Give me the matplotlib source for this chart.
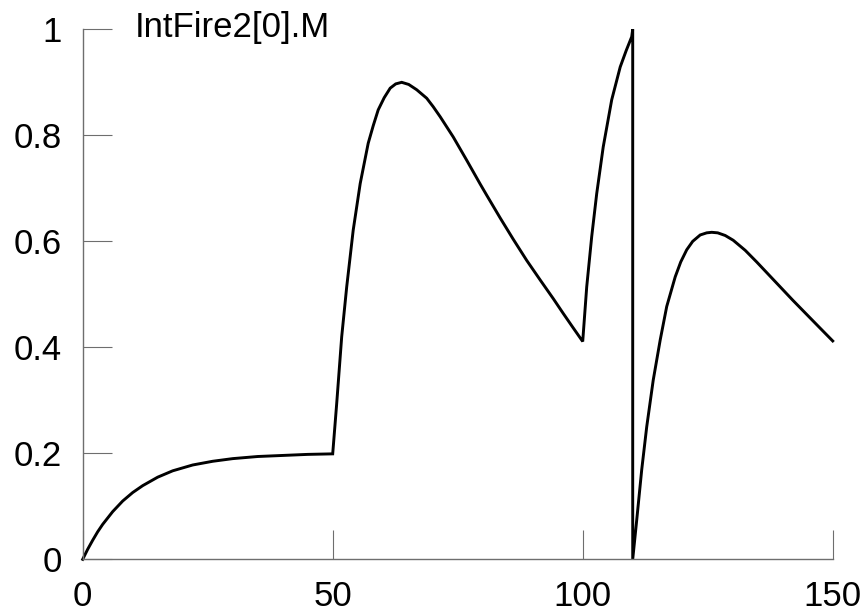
"""IntFire2 membrane state trace, NEURON-graph style."""

import matplotlib
matplotlib.use('Agg')
import matplotlib.pyplot as plt

plt.rcParams['font.family'] = ['Liberation Sans', 'DejaVu Sans']

# Trace label
trace_label = "IntFire2[0].M"

# Time points (ms) and state values of IntFire2[0].M
t_ms = [
    0, 1, 2, 3, 4, 6, 8, 10, 12, 15, 18, 22, 26, 30, 35, 40, 45, 50,
    50.8, 51.8, 52.8, 54.1, 55.5, 57.1, 58.1, 59.1, 60.3, 61.5, 62.6,
    63.8, 65.2, 66.8, 68.8, 70.1, 71.5, 74.1, 76.8, 79.5, 80.8, 83.5,
    86.1, 88.8, 91.5, 94.1, 96.1, 98, 100,
    100.8, 101.8, 102.8, 104.1, 105.8, 107.5, 108.7, 109.8, 110,
    110, 110.8, 111.8, 112.8, 114.1, 115.5, 116.8, 118.5, 119.6, 120.8,
    122, 123.5, 124.8, 125.8, 127, 128.5, 130.1, 132.5, 134.8, 137,
    139.5, 142, 144.8, 147.5, 150,
]
m_state = [
    0, 0.019, 0.036, 0.052, 0.066, 0.090, 0.110, 0.126, 0.139, 0.155,
    0.167, 0.178, 0.185, 0.190, 0.194, 0.196, 0.198, 0.199,
    0.294, 0.420, 0.514, 0.621, 0.709, 0.785, 0.818, 0.848, 0.871,
    0.889, 0.897, 0.900, 0.896, 0.886, 0.870, 0.854, 0.835, 0.797,
    0.753, 0.708, 0.687, 0.644, 0.604, 0.564, 0.527, 0.492, 0.464,
    0.438, 0.411,
    0.514, 0.609, 0.690, 0.778, 0.867, 0.929, 0.960, 0.986, 1.0,
    0.0, 0.074, 0.169, 0.250, 0.338, 0.414, 0.477, 0.533, 0.561, 0.584,
    0.600, 0.612, 0.616, 0.617, 0.616, 0.611, 0.602, 0.583, 0.561,
    0.539, 0.514, 0.489, 0.462, 0.436, 0.412,
]

x_ticks = [0, 50, 100, 150]
y_ticks = [0, 0.2, 0.4, 0.6, 0.8, 1]
y_tick_labels = ["0", "0.2", "0.4", "0.6", "0.8", "1"]

fig = plt.figure(figsize=(8.64, 6.16), dpi=100)
ax = fig.add_axes([0.0957, 0.092, 0.8681, 0.8604])

ax.plot(t_ms, m_state, color="black", linewidth=2.1, clip_on=False,
        solid_joinstyle="miter")

ax.set_xlim(0, 150)
ax.set_ylim(0, 1)

axis_grey = "#6e6e6e"
for side in ("top", "right"):
    ax.spines[side].set_visible(False)
for side in ("left", "bottom"):
    ax.spines[side].set_color(axis_grey)
    ax.spines[side].set_linewidth(1.0)

ax.set_xticks(x_ticks)
ax.set_xticklabels([str(v) for v in x_ticks])
ax.set_yticks(y_ticks)
ax.set_yticklabels(y_tick_labels)
ax.tick_params(direction="in", length=21, width=0.8, color=axis_grey,
               labelsize=25)
ax.tick_params(axis="y", pad=15)
ax.tick_params(axis="x", pad=15)

ax.text(10.5, 0.985, trace_label, fontsize=25, ha="left", va="baseline",
        clip_on=False)

fig.savefig("out.png", dpi=100)
